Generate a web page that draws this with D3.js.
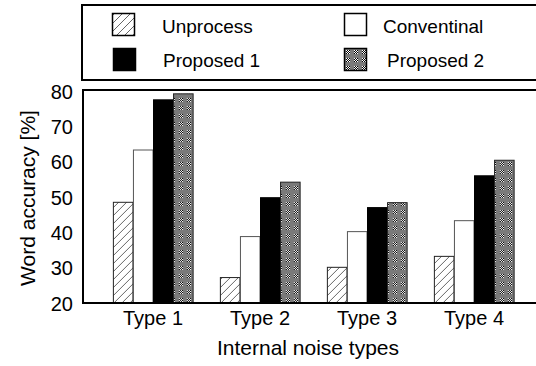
<!DOCTYPE html>
<html><head><meta charset="utf-8">
<script src="https://cdn.jsdelivr.net/npm/d3@7"></script>
<style>
html,body{margin:0;padding:0;background:#fff;}
svg{display:block;font-family:"Liberation Sans",Arial,Helvetica,sans-serif;}
</style></head>
<body>
<svg id="chart" width="536" height="366"></svg>
<script>
const categories = ["Type 1", "Type 2", "Type 3", "Type 4"];
const seriesNames = ["Unprocess", "Conventinal", "Proposed 1", "Proposed 2"];
const unprocess  = [48.5, 27.2, 30.1, 33.2];
const conventinal = [63.3, 38.8, 40.2, 43.3];
const proposed1  = [77.5, 49.8, 47.0, 56.0];
const proposed2  = [79.2, 54.2, 48.4, 60.4];
const yTicks = [20, 30, 40, 50, 60, 70, 80];

const seriesValues = [unprocess, conventinal, proposed1, proposed2];
const svg = d3.select("#chart");

// patterns
const defs = svg.append("defs");
const hatch = defs.append("pattern").attr("id", "hatch").attr("patternUnits", "userSpaceOnUse")
  .attr("width", 8).attr("height", 8);
hatch.append("rect").attr("width", 8).attr("height", 8).attr("fill", "#fff");
hatch.append("path").attr("d", "M-2,2 L2,-2 M0,8 L8,0 M6,10 L10,6")
  .attr("stroke", "#666").attr("stroke-width", 1);

const dots = defs.append("pattern").attr("id", "dots").attr("patternUnits", "userSpaceOnUse")
  .attr("width", 8).attr("height", 8);
dots.append("rect").attr("width", 8).attr("height", 8).attr("fill", "#7a7a7a");
for (let i = 0; i < 4; i++) for (let j = 0; j < 4; j++) {
  dots.append("rect").attr("x", 2 + i).attr("y", 2 + j).attr("width", 1).attr("height", 1)
    .attr("fill", (i + j) % 2 ? "#000" : "#fff").attr("shape-rendering", "crispEdges");
}

const fills = ["url(#hatch)", "#fff", "#000", "url(#dots)"];
const strokes = ["#222", "#555", "#000", "#222"];

// scales
const y = d3.scaleLinear().domain([20, 80]).range([303, 91]);
const x0 = d3.scaleBand().domain(categories).range([99.5, 527.5])
  .paddingInner(0.25).paddingOuter(0.125);
const x1 = d3.scaleBand().domain(seriesNames).range([0, x0.bandwidth()]);

// bars
const groups = svg.append("g").selectAll("g").data(categories).join("g")
  .attr("transform", d => `translate(${x0(d)},0)`);
groups.selectAll("rect")
  .data((c, ci) => seriesNames.map((s, si) => ({s, si, v: seriesValues[si][ci]})))
  .join("rect")
  .attr("x", d => x1(d.s) + 0.5)
  .attr("width", x1.bandwidth() - 0.5)
  .attr("y", d => y(d.v))
  .attr("height", d => y(20) - y(d.v))
  .attr("fill", d => fills[d.si])
  .attr("stroke", d => strokes[d.si])
  .attr("stroke-width", 1);

// frame
svg.append("path").attr("d", "M540,90 H83 V303 H540")
  .attr("fill", "none").attr("stroke", "#000").attr("stroke-width", 2);

// y axis ticks labels
const yAxis = d3.axisLeft(y).tickValues(yTicks).tickSize(0).tickPadding(10);
const ya = svg.append("g").attr("transform", "translate(83,0)").call(yAxis);
ya.select(".domain").remove();
ya.selectAll("text").attr("font-size", 20).attr("fill", "#000")
  .attr("font-family", "Liberation Sans, Arial, sans-serif").attr("dy", "0.36em");

// x axis labels
const xAxis = d3.axisBottom(x0).tickSize(0).tickPadding(8);
const xa = svg.append("g").attr("transform", "translate(0,303)").call(xAxis);
xa.select(".domain").remove();
xa.selectAll("text").attr("font-size", 20).attr("fill", "#000")
  .attr("font-family", "Liberation Sans, Arial, sans-serif");

// axis titles
svg.append("text").attr("x", 308).attr("y", 355).attr("text-anchor", "middle")
  .attr("font-size", 21).text("Internal noise types");
svg.append("text").attr("transform", "translate(35,198) rotate(-90)")
  .attr("text-anchor", "middle").attr("font-size", 21).text("Word accuracy [%]");

// legend
svg.append("rect").attr("x", 82).attr("y", 5).attr("width", 470).attr("height", 75)
  .attr("fill", "none").attr("stroke", "#000").attr("stroke-width", 2);
const legPos = [
  {sx: 112.5, sy: 13.5, tx: 162, ty: 33},
  {sx: 344.5, sy: 13.5, tx: 383, ty: 33},
  {sx: 113.5, sy: 48.5, tx: 163, ty: 67},
  {sx: 344.5, sy: 48.5, tx: 387, ty: 67}
];
const leg = svg.append("g").selectAll("g").data(seriesNames).join("g");
leg.append("rect")
  .attr("x", (d, i) => legPos[i].sx).attr("y", (d, i) => legPos[i].sy)
  .attr("width", 22).attr("height", 22)
  .attr("fill", (d, i) => fills[i]).attr("stroke", "#000").attr("stroke-width", 1.5);
leg.append("text")
  .attr("x", (d, i) => legPos[i].tx).attr("y", (d, i) => legPos[i].ty)
  .attr("font-size", 19).text(d => d);
</script>
</body></html>
